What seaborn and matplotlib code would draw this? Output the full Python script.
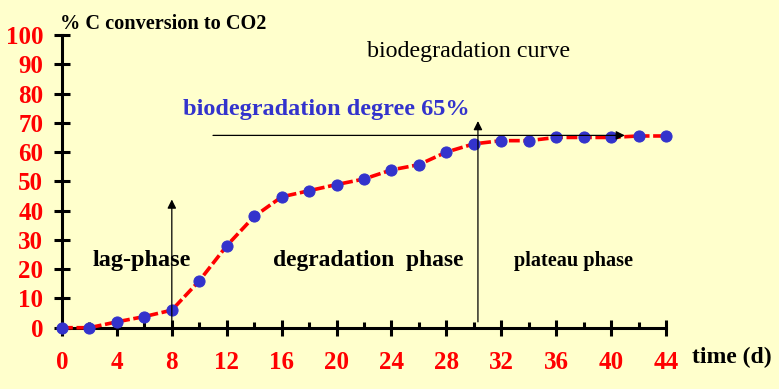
import matplotlib
matplotlib.use("Agg")
import matplotlib.pyplot as plt
import seaborn as sns

# biodegradation test: % C converted to CO2 over time
days = [0, 2, 4, 6, 8, 10, 12, 14, 16, 18, 20, 22, 24, 26, 28, 30, 32, 34, 36, 38, 40, 42, 44]
conversion = [0, 0, 2, 3.8, 6, 16, 28, 38, 44.7, 46.8, 48.9, 50.8, 53.9, 55.7, 60, 62.8,
              63.9, 63.9, 65, 65, 65, 65.5, 65.5]
x_ticks = [0, 4, 8, 12, 16, 20, 24, 28, 32, 36, 40, 44]
y_ticks = [0, 10, 20, 30, 40, 50, 60, 70, 80, 90, 100]

bg = "#ffffcc"
blue = "#3333cc"

sns.set_style("ticks")
plt.rcParams["font.family"] = ["Liberation Serif", "DejaVu Serif"]
plt.rcParams["text.color"] = "black"
plt.rcParams["axes.edgecolor"] = "black"

fig = plt.figure(figsize=(7.79, 3.89), dpi=100, facecolor=bg)
ax = fig.add_axes([62 / 779, 61.3 / 389, 604 / 779, 292.7 / 389])
ax.set_facecolor(bg)

sns.lineplot(x=days, y=conversion, ax=ax, color="red", lw=2.6,
             linestyle=(0, (3, 1)), marker="o", markersize=8,
             markerfacecolor=blue, markeredgecolor=blue, clip_on=False, zorder=3)

ax.set_xlim(0, 44)
ax.set_ylim(0, 100)
ax.set_xticks(x_ticks)
ax.set_xticks([d for d in days if d not in x_ticks], minor=True)
ax.set_yticks(y_ticks)
for s in ["top", "right"]:
    ax.spines[s].set_visible(False)
for s in ["left", "bottom"]:
    ax.spines[s].set_linewidth(2.2)
    ax.spines[s].set_color("black")
ax.tick_params(axis="both", which="major", direction="inout", length=11, width=2.2,
               labelsize=18, labelcolor="red", colors="black")
ax.tick_params(axis="y", pad=8)
ax.tick_params(axis="x", pad=11)
ax.tick_params(axis="x", which="minor", direction="in", length=4, width=2.2, colors="black")
for lbl in ax.get_xticklabels() + ax.get_yticklabels():
    lbl.set_fontweight("bold")
    lbl.set_color("red")
ax.set_xlabel("")
ax.set_ylabel("")

# annotations
ax.text(-0.15, 103.8, "% C conversion to CO2", fontsize=14.6, fontweight="bold",
        color="black", ha="left", va="center", clip_on=False)
ax.text(22.2, 94.4, "biodegradation curve", fontsize=17.3, color="black",
        ha="left", va="center")
ax.text(8.8, 74.4, "biodegradation degree 65%", fontsize=17.5, fontweight="bold",
        color=blue, ha="left", va="center")
ax.text(2.25, 23.1, "lag-phase", fontsize=17.5, fontweight="bold", color="black",
        ha="left", va="center")
ax.text(15.4, 23.1, "degradation  phase", fontsize=16.9, fontweight="bold", color="black",
        ha="left", va="center")
ax.text(32.9, 22.8, "plateau phase", fontsize=14.6, fontweight="bold", color="black",
        ha="left", va="center")
ax.text(45.9, -10, "time (d)", fontsize=17, fontweight="bold", color="black",
        ha="left", va="center", clip_on=False)

arrow = dict(arrowstyle="-|>", lw=0.9, color="black", mutation_scale=13, shrinkA=0, shrinkB=0)
ax.annotate("", xy=(41, 65.7), xytext=(11, 65.7), arrowprops=arrow)
ax.annotate("", xy=(8, 43.8), xytext=(8, 0), arrowprops=arrow)
ax.annotate("", xy=(30.3, 70.6), xytext=(30.3, 2), arrowprops=arrow)

fig.savefig("out.png", dpi=100, facecolor=bg)
